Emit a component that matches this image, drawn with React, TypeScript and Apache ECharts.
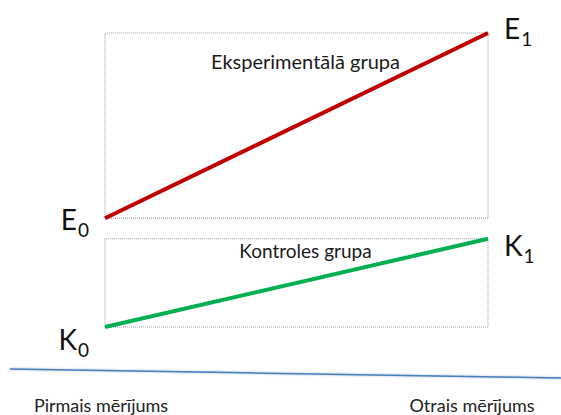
import React, { useEffect, useRef } from "react";
import * as echarts from "echarts";

// Measurement points (x: 0 = first, 1 = second)
const measurements = ["Pirmais mērījums", "Otrais mērījums"];
// Relative level of each group at each measurement
const experimentalValues = [37, 100];
const controlValues = [0, 30];
const experimentalPointNames = ["0", "1"]; // subscripts for E
const controlPointNames = ["0", "1"]; // subscripts for K
const groupNames = ["Eksperimentālā grupa", "Kontroles grupa"];

const FONT = "Lato, 'Open Sans', sans-serif";

const subRich = {
  m: { fontSize: 28, fontFamily: FONT, color: "#111", lineHeight: 28, verticalAlign: "bottom", padding: [0, 1, 6, 0] },
  s: { fontSize: 19, fontFamily: FONT, color: "#111", lineHeight: 19, verticalAlign: "bottom" },
};

export default function App() {
  const ref = useRef<HTMLDivElement>(null);
  useEffect(() => {
    document.body.style.margin = "0";
    const chart = echarts.init(ref.current!, null, { renderer: "svg" });

    const mkData = (letter: string, vals: number[], subs: string[], side: string[], offs: number[][]) =>
      vals.map((v, i) => ({
        value: [i, v],
        label: {
          show: true,
          position: side[i],
          distance: 16,
          offset: offs[i],
          formatter: `{m|${letter}}{s|${subs[i]}}`,
          rich: subRich,
        },
      }));

    chart.setOption({
      animation: false,
      grid: { left: 105, right: 73, top: 33, bottom: 88 },
      xAxis: {
        type: "value",
        min: 0,
        max: 1,
        interval: 1,
        axisLine: { show: false },
        axisTick: { show: false },
        splitLine: { show: false },
        axisLabel: {
          margin: 69,
          formatter: (v: number) => (v === 0 ? `{a|${measurements[0]}}` : `{b|${measurements[1]}}`),
          rich: {
            a: { fontSize: 18, fontFamily: FONT, color: "#222", padding: [0, 8, 0, 0] },
            b: { fontSize: 18, fontFamily: FONT, color: "#222", padding: [0, 32, 0, 0] },
          },
        },
      },
      yAxis: { type: "value", min: 0, max: 100, show: false },
      series: [
        {
          type: "line",
          symbol: "circle",
          symbolSize: 0,
          lineStyle: { color: "#c00000", width: 4 },
          itemStyle: { color: "#c00000" },
          data: mkData("E", experimentalValues, experimentalPointNames, ["left", "right"], [[0, 7], [0, 1]]),
          markArea: {
            silent: true,
            itemStyle: { color: "rgba(0,0,0,0)", borderColor: "#9a9a9a", borderWidth: 1, borderType: "dotted" },
            label: { show: true, position: "insideTop", distance: 18, offset: [9, 0], fontFamily: FONT, fontSize: 20, color: "#1a1a1a" },
            data: [[
              { name: groupNames[0], coord: [0, experimentalValues[0]] },
              { coord: [1, experimentalValues[1]] },
            ]],
          },
        },
        {
          type: "line",
          symbol: "circle",
          symbolSize: 0,
          lineStyle: { color: "#00b050", width: 4 },
          itemStyle: { color: "#00b050" },
          data: mkData("K", controlValues, controlPointNames, ["left", "right"], [[0, 18], [0, 12]]),
          markArea: {
            silent: true,
            itemStyle: { color: "rgba(0,0,0,0)", borderColor: "#9a9a9a", borderWidth: 1, borderType: "dotted" },
            label: { show: true, position: "insideTop", distance: 3, offset: [9, 0], fontFamily: FONT, fontSize: 19, color: "#1a1a1a" },
            data: [[
              { name: groupNames[1], coord: [0, controlValues[0]] },
              { coord: [1, controlValues[1]] },
            ]],
          },
        },
      ],
      graphic: [
        {
          type: "line",
          shape: { x1: 10, y1: 369, x2: 561, y2: 378 },
          style: { stroke: "#4a7ebb", lineWidth: 1.5, shadowColor: "rgba(74,126,187,0.5)", shadowBlur: 2 },
          silent: true,
        },
      ],
    });
    return () => chart.dispose();
  }, []);
  return <div ref={ref} style={{ width: 561, height: 415 }} />;
}
